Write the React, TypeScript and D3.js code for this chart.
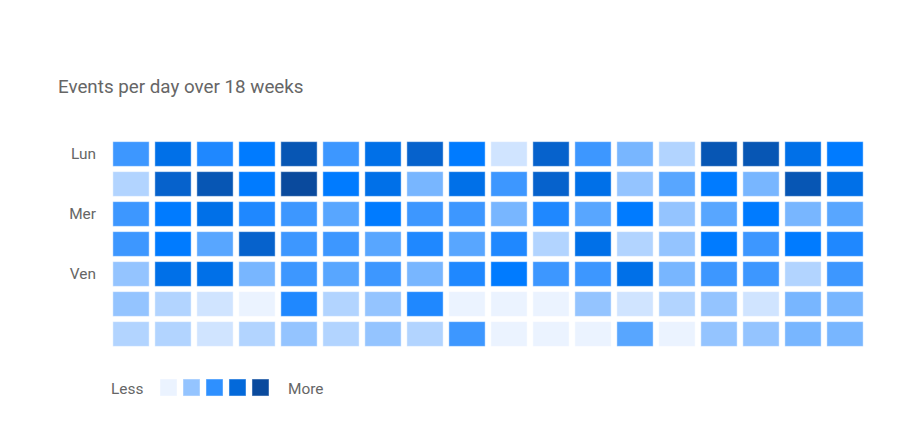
import React from "react"
import * as d3 from "d3"

// heatmap of daily events, 7 days x 18 weeks
const title = "Events per day over 18 weeks"
const dayLabels = ["Lun", "", "Mer", "", "Ven", "", ""]
const weeks = d3.range(18)

// activity level per day (rows) and week (columns), 0..12
const levels = [
  [6, 9, 7, 8, 11, 6, 9, 10, 8, 1, 10, 6, 4, 2, 11, 11, 9, 8],
  [2, 10, 11, 8, 12, 8, 9, 4, 9, 6, 10, 9, 3, 5, 8, 4, 11, 9],
  [6, 8, 9, 7, 6, 5, 8, 6, 6, 4, 7, 5, 8, 3, 5, 8, 4, 5],
  [6, 8, 5, 10, 6, 6, 5, 7, 5, 7, 2, 9, 2, 3, 8, 6, 8, 7],
  [3, 9, 9, 4, 6, 5, 6, 4, 7, 8, 6, 6, 9, 4, 6, 6, 2, 6],
  [3, 2, 1, 0, 7, 2, 3, 7, 0, 0, 0, 3, 1, 2, 3, 1, 4, 4],
  [2, 2, 1, 2, 3, 2, 3, 2, 6, 0, 0, 0, 5, 0, 3, 3, 4, 4],
]

const paletteStops = [
  "#ebf3ff", "#d0e4ff", "#b2d4ff", "#94c4ff", "#78b6ff", "#58a6ff", "#3d97ff",
  "#1f88ff", "#007bff", "#0070e8", "#0662cc", "#0756b4", "#0a4a9d",
]
const legendValues = [0, 3, 6.5, 9.5, 12]

export default function App() {
  const width = 900
  const height = 436

  const x = d3.scaleBand<number>().domain(weeks).range([110, 866]).paddingInner(0.136).paddingOuter(0.068)
  const y = d3.scaleBand<number>().domain(d3.range(7)).range([139, 349]).paddingInner(0.177).paddingOuter(0.0885)
  const color = d3.scaleLinear<string>().domain(d3.range(paletteStops.length)).range(paletteStops).interpolate(d3.interpolateRgb)

  const legendX = d3.scaleBand<number>().domain(d3.range(legendValues.length)).range([160, 269]).paddingInner(0.26).paddingOuter(0)

  const font = "Roboto, 'Noto Sans', sans-serif"

  return (
    <svg width={width} height={height} style={{ position: "absolute", left: 0, top: 0, fontFamily: font }}>
      <rect width={width} height={height} fill="#fff" />
      <text x={58} y={93} fontSize={18.8} fill="#666">{title}</text>

      {dayLabels.map((d, i) => d ? (
        <text key={i} x={96} y={y(i)! + y.bandwidth() / 2} dy="0.35em" textAnchor="end" fontSize={15.4} fill="#666">{d}</text>
      ) : null)}

      <g>
        {levels.map((row, r) => row.map((v, c) => (
          <rect key={r + "-" + c} x={x(c)} y={y(r)} width={x.bandwidth()} height={y.bandwidth()}
            fill={color(v)} stroke="#fff" strokeOpacity={0.45} strokeWidth={1} />
        )))}
      </g>

      <g>
        <text x={111} y={389} dy="0.35em" fontSize={15.4} fill="#666">Less</text>
        {legendValues.map((v, i) => (
          <rect key={i} x={legendX(i)} y={379} width={legendX.bandwidth()} height={legendX.bandwidth()}
            fill={color(v)} stroke="#fff" strokeOpacity={0.45} strokeWidth={1} />
        ))}
        <text x={288} y={389} dy="0.35em" fontSize={15.4} fill="#666">More</text>
      </g>
    </svg>
  )
}
